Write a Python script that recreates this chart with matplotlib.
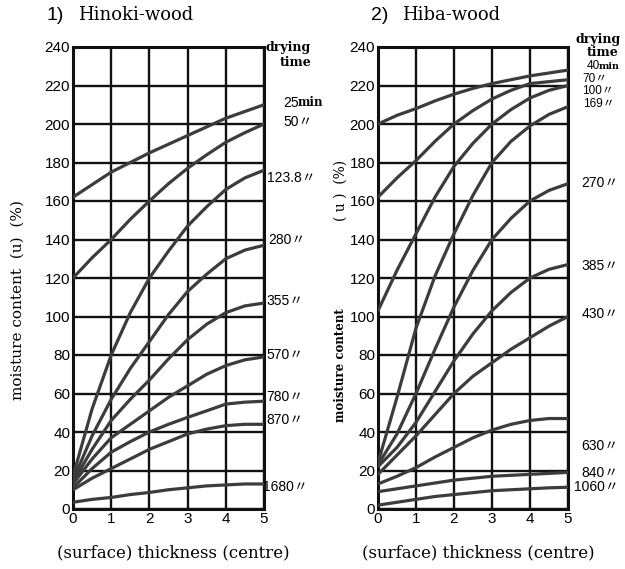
import matplotlib
matplotlib.use('Agg')
import matplotlib.pyplot as plt
from matplotlib import font_manager as fm

names = {f.name for f in fm.fontManager.ttflist}
NARROW = 'Liberation Sans Narrow' if 'Liberation Sans Narrow' in names else 'Liberation Sans'
SERIF = 'DejaVu Serif'

# ---------------- data ----------------
thickness = [0, 0.5, 1, 1.5, 2, 2.5, 3, 3.5, 4, 4.5, 5]
x_ticks = [0, 1, 2, 3, 4, 5]
y_ticks = [0, 20, 40, 60, 80, 100, 120, 140, 160, 180, 200, 220, 240]

# 1) Hinoki-wood, drying time (min)
hinoki_times = ['25', '50', '123.8', '280', '355', '570', '780', '870', '1680']
hinoki_25 = [162, 168.5, 175, 180, 185, 189.5, 194, 198.5, 203, 206.5, 210]
hinoki_50 = [120, 130.5, 140, 150.5, 160, 169, 177, 184, 190.5, 195.5, 200]
hinoki_123 = [17, 52, 80, 102, 120, 134, 147, 157, 166, 172, 176]
hinoki_280 = [15, 38, 57, 73, 87, 101, 113, 122, 130, 134.5, 137]
hinoki_355 = [14, 31, 46, 57, 67, 78, 88, 96, 102, 105.5, 107]
hinoki_570 = [13, 26, 37, 44, 51, 58, 64, 70, 74.5, 77.5, 79]
hinoki_780 = [11, 21, 29.5, 35, 40, 44, 47.6, 51, 54.5, 55.5, 56]
hinoki_870 = [10, 16, 21, 26, 31, 35, 39, 41.5, 43.3, 44, 44]
hinoki_1680 = [3.5, 5, 6, 7.5, 8.6, 10, 11, 12, 12.5, 13, 13]
hinoki_label_y = [211, 201, 172, 140, 108, 80, 58, 46, 11.4]

# 2) Hiba-wood, drying time (min)
hiba_times = ['40', '70', '100', '169', '270', '385', '430', '630', '840', '1060']
hiba_40 = [200, 204.5, 208, 212, 215.5, 218.5, 221, 223, 225, 226.5, 228]
hiba_70 = [162, 172, 181, 191, 200, 207, 213, 217.5, 221, 222, 223]
hiba_100 = [103, 124, 143, 162, 178, 190, 200, 207.5, 213.5, 217.5, 220]
hiba_169 = [24, 58, 94, 121, 143, 163, 180, 191, 199, 205, 209]
hiba_270 = [23, 39, 60, 83, 105, 124, 140, 151, 160, 165.5, 169]
hiba_385 = [22, 32, 45, 61, 77, 91, 103, 112.5, 120, 124.5, 127]
hiba_430 = [18, 28, 38, 49, 60, 69, 76, 83, 89, 95, 100]
hiba_630 = [13, 17, 21.5, 27, 32, 37, 41, 44, 46, 47, 47]
hiba_840 = [9, 10.5, 12, 13.5, 15, 16, 17, 17.5, 18, 18.5, 19]
hiba_1060 = [2, 3.5, 5, 6.5, 7.5, 8.5, 9.5, 10, 10.5, 11, 11.3]
hiba_label_y = [230, 223.5, 217, 210.5, 169.4, 126, 101.3, 32.7, 18.7, 11.4]

hinoki_series = [hinoki_25, hinoki_50, hinoki_123, hinoki_280, hinoki_355,
                 hinoki_570, hinoki_780, hinoki_870, hinoki_1680]
hiba_series = [hiba_40, hiba_70, hiba_100, hiba_169, hiba_270, hiba_385,
               hiba_430, hiba_630, hiba_840, hiba_1060]

# ---------------- figure ----------------
W, H = 625, 569
fig = plt.figure(figsize=(W / 100, H / 100), dpi=100)
fig.patch.set_facecolor('white')

def frac(px_left, px_top, px_right, px_bottom):
    return [px_left / W, 1 - px_bottom / H, (px_right - px_left) / W, (px_bottom - px_top) / H]

ax1 = fig.add_axes(frac(73, 47, 264, 509))
ax2 = fig.add_axes(frac(378, 47, 568, 509))

CURVE = '#3c3c3c'

def style_axes(ax):
    ax.set_xlim(0, 5)
    ax.set_ylim(0, 240)
    ax.set_xticks(x_ticks)
    ax.set_yticks(y_ticks)
    ax.set_xticklabels([str(t) for t in x_ticks], family=NARROW, fontsize=11)
    ax.set_yticklabels([str(t) for t in y_ticks], family=NARROW, fontsize=11)
    ax.tick_params(length=0, pad=2)
    ax.grid(True, color='#111111', linewidth=1.7)
    ax.set_axisbelow(True)
    for s in ax.spines.values():
        s.set_linewidth(2.2)
        s.set_color('#111111')

for ax, series in ((ax1, hinoki_series), (ax2, hiba_series)):
    style_axes(ax)
    for ys in series:
        ax.plot(thickness, ys, color=CURVE, linewidth=2.3, solid_capstyle='round',
                solid_joinstyle='round', zorder=3)

# curve labels
def add_labels(ax, times, ys, xpos, sizes, min_offset):
    for i, (t, y) in enumerate(zip(times, ys)):
        if i == 0:
            ax.text(xpos[i], y, t, family=NARROW, fontsize=sizes[i], va='center', ha='left',
                    clip_on=False)
            ax.annotate('min', xy=(xpos[i], y), xycoords='data',
                        xytext=(min_offset, 0), textcoords='offset points',
                        family=SERIF, fontweight='bold', fontsize=sizes[i] - 1.5,
                        va='center', ha='left', annotation_clip=False)
        else:
            ax.text(xpos[i], y, t + '\u3003',
                    family=[NARROW, 'Noto Sans CJK JP'], fontsize=sizes[i],
                    va='center', ha='left', clip_on=False)

add_labels(ax1, hinoki_times, hinoki_label_y,
           [5.5, 5.5, 5.07, 5.12, 5.07, 5.07, 5.07, 5.07, 4.98],
           [10] * 9, 10.5)
add_labels(ax2, hiba_times, hiba_label_y,
           [5.48, 5.37, 5.37, 5.4, 5.35, 5.35, 5.35, 5.35, 5.35, 5.17],
           [8.5, 8.5, 8.5, 8.5, 10, 10, 10, 10, 10, 10], 9)

ax1.text(5.05, 239.5, 'drying', family=SERIF, fontweight='bold', fontsize=9,
         va='center', ha='left', clip_on=False)
ax1.text(5.42, 232, 'time', family=SERIF, fontweight='bold', fontsize=9,
         va='center', ha='left', clip_on=False)
ax2.text(5.2, 244, 'drying', family=SERIF, fontweight='bold', fontsize=9,
         va='center', ha='left', clip_on=False)
ax2.text(5.5, 237, 'time', family=SERIF, fontweight='bold', fontsize=9,
         va='center', ha='left', clip_on=False)

# titles
fig.text(47 / W, 1 - 15 / H, '1)', family=NARROW, fontsize=14, va='center', ha='left')
fig.text(78 / W, 1 - 15 / H, 'Hinoki-wood', family=SERIF, fontsize=13, va='center', ha='left')
fig.text(371 / W, 1 - 15 / H, '2)', family=NARROW, fontsize=14, va='center', ha='left')
fig.text(402 / W, 1 - 15 / H, 'Hiba-wood', family=SERIF, fontsize=13, va='center', ha='left')

# axis labels
fig.text(18 / W, 1 - 300 / H, 'moisture content  (u)  (%)', family=SERIF, fontsize=11,
         rotation=90, va='center', ha='center')
fig.text(341 / W, 1 - 190 / H, '( u )  (%)', family=SERIF, fontsize=10,
         rotation=90, va='center', ha='center')
fig.text(341 / W, 1 - 365 / H, 'moisture content', family=SERIF, fontsize=8.5,
         fontweight='bold', rotation=90, va='center', ha='center')
fig.text(173 / W, 1 - 553 / H, '(surface) thickness (centre)', family=SERIF, fontsize=12,
         va='center', ha='center')
fig.text(478 / W, 1 - 553 / H, '(surface) thickness (centre)', family=SERIF, fontsize=12,
         va='center', ha='center')

fig.savefig('out.png', dpi=100, facecolor='white')
